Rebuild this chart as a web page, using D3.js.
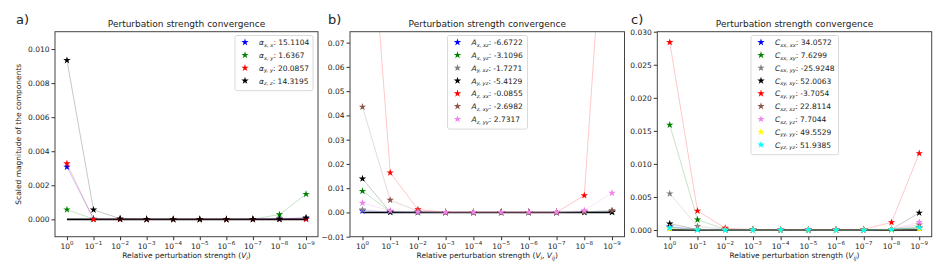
<!DOCTYPE html>
<html>
<head>
<meta charset="utf-8">
<script src="https://cdn.jsdelivr.net/npm/d3@7"></script>
<style>
  body { margin: 0; background: #fff; }
  text { font-family: "DejaVu Sans", sans-serif; fill: #222; }
</style>
</head>
<body>
<div id="chart"></div>
<script>
// x categories: perturbation strength exponents 10^0 ... 10^-9
var exponents = [0, -1, -2, -3, -4, -5, -6, -7, -8, -9];

// panel a) polarizability components
var aNames = [["α", "x, x", "15.1104"], ["α", "x, y", "1.6367"], ["α", "y, y", "20.0857"], ["α", "z, z", "14.3195"]];
var aColors = ["blue", "green", "red", "black"];
var alphaXX = [0.00308, 0.00002, 0.00001, 0, 0, 0, 0, 0, 0.00002, 0.00006];
var alphaXY = [0.00057, 0.00001, 0.00001, 0, 0, 0, 0, 0.00001, 0.00028, 0.00148];
var alphaYY = [0.00328, 0.00001, 0.00001, 0, 0, 0, 0, 0, 0.00001, 0.00001];
var alphaZZ = [0.00934, 0.00056, 0.00004, 0.00001, 0, 0, 0, 0.00001, 0.00002, 0.0001];

// panel b) A-tensor components
var bNames = [["A", "x, xz", "-6.6722"], ["A", "x, yz", "-3.1096"], ["A", "y, xz", "-1.7271"], ["A", "y, yz", "-5.4129"],
              ["A", "z, xx", "-0.0855"], ["A", "z, xy", "-2.6982"], ["A", "z, yy", "2.7317"]];
var bColors = ["blue", "green", "grey", "black", "red", "#8c564b", "violet"];
var AxXZ = [0.0007, 0.0001, 0.00005, 0, 0, 0, 0, 0, 0.0001, 0.0003];
var AxYZ = [0.0088, 0.0003, 0.0001, 0, 0, 0, 0, 0, 0.0001, 0.0002];
var AyXZ = [0.0011, 0.0001, 0.00005, 0, 0, 0, 0, 0, 0.0003, 0.0006];
var AyYZ = [0.0139, 0.0002, 0.0001, 0, 0, 0, 0, 0, 0.0001, 0.0001];
var AzXX = [0.17, 0.0164, 0.0012, 0.0001, 0.0001, 0.0001, 0.0001, 0.0001, 0.007, 0.174];
var AzXY = [0.0435, 0.0051, 0.0005, 0, 0, 0, 0, 0, 0.0002, 0.0008];
var AzYY = [0.0039, 0.0007, 0.0002, 0.0001, 0.0001, 0.0001, 0.0001, 0.0001, 0.0008, 0.008];

// panel c) C-tensor components
var cNames = [["C", "xx, xx", "34.0572"], ["C", "xx, xy", "7.6299"], ["C", "xx, yy", "-25.9248"], ["C", "xy, xy", "52.0063"],
              ["C", "xy, yy", "-3.7054"], ["C", "xz, xz", "22.8114"], ["C", "xz, yz", "7.7044"], ["C", "yy, yy", "49.5529"], ["C", "yz, yz", "51.9385"]];
var cColors = ["blue", "green", "grey", "black", "red", "#8c564b", "violet", "yellow", "cyan"];
var CxxXX = [0.0005, 0.0001, 0.00005, 0, 0, 0, 0, 0, 0.0001, 0.0003];
var CxxXY = [0.0159, 0.00157, 0.0001, 0, 0, 0, 0, 0, 0.0001, 0.0004];
var CxxYY = [0.0055, 0.00056, 0.0001, 0, 0, 0, 0, 0, 0.0001, 0.0003];
var CxyXY = [0.00096, 0.0001, 0.00005, 0, 0, 0, 0, 0, 0.0001, 0.0026];
var CxyYY = [0.0284, 0.0029, 0.0003, 0.00005, 0.00005, 0.00005, 0.00005, 0.0001, 0.00116, 0.0116];
var CxzXZ = [0.0004, 0.0001, 0.00005, 0, 0, 0, 0, 0, 0.0001, 0.0008];
var CxzYZ = [0.0003, 0.0001, 0.00005, 0, 0, 0, 0, 0, 0.0001, 0.0012];
var CyyYY = [0.0002, 0.00005, 0, 0, 0, 0, 0, 0, 0.00005, 0.0002];
var CyzYZ = [0.00035, 0.00005, 0, 0, 0, 0, 0, 0, 0.0001, 0.0004];

var aTicks = [0, 0.002, 0.004, 0.006, 0.008, 0.010];
var bTicks = [-0.01, 0, 0.01, 0.02, 0.03, 0.04, 0.05, 0.06, 0.07];
var cTicks = [0, 0.005, 0.010, 0.015, 0.020, 0.025, 0.030];

var panels = [
  { tag: "a)", tagX: 16, left: 55, right: 318, ylim: [-0.00102, 0.01102], ticks: aTicks, fmt: d3.format(".3f"),
    series: [alphaXX, alphaXY, alphaYY, alphaZZ], names: aNames, colors: aColors,
    legendX: 235, legendW: 78, sub: "i", ylabel: true },
  { tag: "b)", tagX: 328, left: 350, right: 624.5, ylim: [-0.01, 0.0745], ticks: bTicks, fmt: d3.format(".2f"),
    series: [AxXZ, AxYZ, AyXZ, AyYZ, AzXX, AzXY, AzYY], names: bNames, colors: bColors,
    legendX: 447.5, legendW: 80, sub: "i, ij" },
  { tag: "c)", tagX: 631, left: 657.3, right: 931.7, ylim: [-0.00101, 0.030], ticks: cTicks, fmt: d3.format(".3f"),
    series: [CxxXX, CxxXY, CxxYY, CxyXY, CxyYY, CxzXZ, CxzYZ, CyyYY, CyzYZ], names: cNames, colors: cColors,
    legendX: 751, legendW: 87.5, sub: "ij" }
];

var plotTop = 31.7, plotBottom = 236.7;

var svg = d3.select("#chart").append("svg")
  .attr("width", 941)
  .attr("height", 276);

var star = d3.symbol().type(d3.symbolStar).size(17);

panels.forEach(function(p, pi) {
  var x = d3.scaleLinear().domain([-0.45, 9.45]).range([p.left, p.right]);
  var y = d3.scaleLinear().domain(p.ylim).range([plotBottom, plotTop]);
  var g = svg.append("g");

  g.append("clipPath").attr("id", "clip" + pi)
    .append("rect")
    .attr("x", p.left).attr("y", plotTop)
    .attr("width", p.right - p.left).attr("height", plotBottom - plotTop);

  // panel tag and title
  g.append("text").attr("x", p.tagX).attr("y", 24)
    .style("font-size", "13px").text(p.tag);
  g.append("text").attr("x", (p.left + p.right) / 2).attr("y", 27)
    .attr("text-anchor", "middle").style("font-size", "9px")
    .text("Perturbation strength convergence");

  // y axis
  var yAxis = d3.axisLeft(y).tickValues(p.ticks).tickSize(3.5).tickPadding(2)
    .tickFormat(function(d) { return p.fmt(d).replace("-", "\u2212"); });
  var ya = g.append("g").attr("transform", "translate(" + p.left + ",0)").call(yAxis);
  ya.select(".domain").remove();
  ya.selectAll("text").style("font-size", "7.5px").style("font-family", "DejaVu Sans").attr("fill", "#222");
  ya.selectAll("line").attr("stroke", "#333");

  // x axis with 10^n labels
  var xAxis = d3.axisBottom(x).tickValues(d3.range(exponents.length)).tickSize(3.5).tickFormat("");
  var xa = g.append("g").attr("transform", "translate(0," + plotBottom + ")").call(xAxis);
  xa.select(".domain").remove();
  xa.selectAll("line").attr("stroke", "#333");
  exponents.forEach(function(e, i) {
    var t = g.append("text").attr("x", x(i)).attr("y", plotBottom + 12)
      .attr("text-anchor", "middle").style("font-size", "7.5px");
    t.append("tspan").text("10");
    t.append("tspan").attr("dy", -3.5).style("font-size", "5.5px")
      .text(String(e).replace("-", "\u2212"));
  });

  // x label
  var xl = g.append("text").attr("x", (p.left + p.right) / 2).attr("y", plotBottom + 21.5)
    .attr("text-anchor", "middle").style("font-size", "7.5px");
  xl.append("tspan").text("Relative perturbation strength (");
  if (p.sub === "i, ij") {
    xl.append("tspan").style("font-style", "italic").text("V");
    xl.append("tspan").attr("dy", 1.5).style("font-size", "5.5px").style("font-style", "italic").text("i");
    xl.append("tspan").attr("dy", -1.5).text(", ");
    xl.append("tspan").style("font-style", "italic").text("V");
    xl.append("tspan").attr("dy", 1.5).style("font-size", "5.5px").style("font-style", "italic").text("ij");
    xl.append("tspan").attr("dy", -1.5).text(")");
  } else {
    xl.append("tspan").style("font-style", "italic").text("V");
    xl.append("tspan").attr("dy", 1.5).style("font-size", "5.5px").style("font-style", "italic").text(p.sub);
    xl.append("tspan").attr("dy", -1.5).text(")");
  }

  if (p.ylabel) {
    g.append("text")
      .attr("transform", "translate(21," + ((plotTop + plotBottom) / 2) + ") rotate(-90)")
      .attr("text-anchor", "middle").style("font-size", "7.5px")
      .text("Scaled magnitude of the components");
  }

  var plot = g.append("g").attr("clip-path", "url(#clip" + pi + ")");

  // zero reference line
  plot.append("line")
    .attr("x1", x(0)).attr("x2", x(exponents.length - 1))
    .attr("y1", y(0)).attr("y2", y(0))
    .attr("stroke", "black").attr("stroke-width", 1.6);

  var line = d3.line().x(function(d, i) { return x(i); }).y(function(d) { return y(d); });

  p.series.forEach(function(s, si) {
    plot.append("path").datum(s)
      .attr("d", line)
      .attr("fill", "none")
      .attr("stroke", p.colors[si])
      .attr("stroke-opacity", 0.22)
      .attr("stroke-width", 1);
    plot.selectAll(".m" + si).data(s).enter().append("path")
      .attr("transform", function(d, i) { return "translate(" + x(i) + "," + y(d) + ")"; })
      .attr("d", star)
      .attr("fill", p.colors[si]);
  });

  // frame
  g.append("rect")
    .attr("x", p.left).attr("y", plotTop)
    .attr("width", p.right - p.left).attr("height", plotBottom - plotTop)
    .attr("fill", "none").attr("stroke", "#444").attr("stroke-width", 1);

  // legend
  var rowH = 12.8;
  var lg = g.append("g");
  lg.append("rect")
    .attr("x", p.legendX).attr("y", 35.5)
    .attr("width", p.legendW).attr("height", p.names.length * rowH + 4)
    .attr("rx", 2)
    .attr("fill", "white").attr("fill-opacity", 0.85)
    .attr("stroke", "#d0d0d0").attr("stroke-width", 0.8);
  p.names.forEach(function(n, ni) {
    var cy = 42.3 + ni * rowH;
    lg.append("path")
      .attr("transform", "translate(" + (p.legendX + 10) + "," + cy + ")")
      .attr("d", star).attr("fill", p.colors[ni]);
    var t = lg.append("text").attr("x", p.legendX + 24).attr("y", cy + 2.8)
      .style("font-size", "7.5px");
    t.append("tspan").style("font-style", "italic").text(n[0]);
    t.append("tspan").attr("dy", 1.6).style("font-size", "5.2px").style("font-style", "italic").text(n[1]);
    t.append("tspan").attr("dy", -1.6).text(": " + n[2]);
  });
});
</script>
</body>
</html>
